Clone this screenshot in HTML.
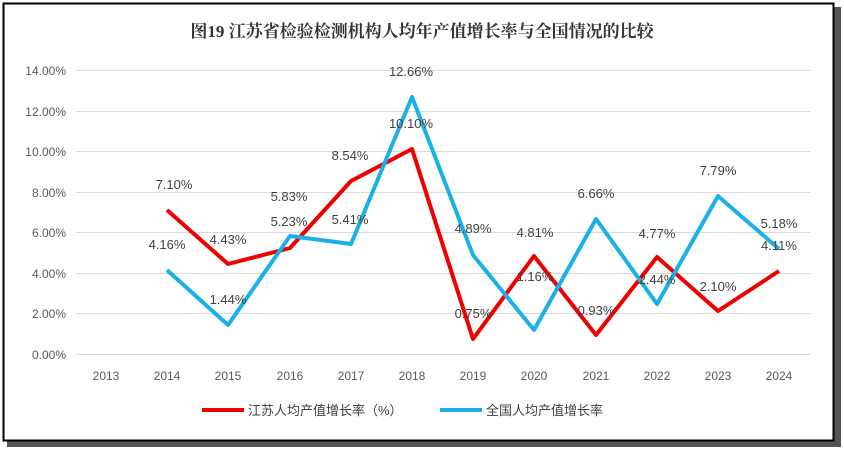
<!DOCTYPE html>
<html><head><meta charset="utf-8"><style>
html,body{margin:0;padding:0;background:#fff;width:844px;height:452px;overflow:hidden}
text{font-family:"Liberation Sans","Noto Sans CJK SC",sans-serif}
</style></head><body>
<svg width="844" height="452" viewBox="0 0 844 452" xmlns="http://www.w3.org/2000/svg">
<rect x="7" y="7" width="834" height="440" fill="#555"/>
<rect x="3.5" y="3.5" width="830" height="437" fill="#fff" stroke="#000" stroke-width="2"/>
<text x="422" y="37" text-anchor="middle" font-size="17" font-weight="bold" fill="#333" style='font-family:"Liberation Serif","Noto Serif CJK SC",serif'>图19  江苏省检验检测机构人均年产值增长率与全国情况的比较</text>
<g stroke="#d9d9d9" stroke-width="1">
<line x1="76" x2="810" y1="70.5" y2="70.5"/><line x1="76" x2="810" y1="111.5" y2="111.5"/>
<line x1="76" x2="810" y1="151.5" y2="151.5"/><line x1="76" x2="810" y1="192.5" y2="192.5"/>
<line x1="76" x2="810" y1="232.5" y2="232.5"/><line x1="76" x2="810" y1="273.5" y2="273.5"/>
<line x1="76" x2="810" y1="313.5" y2="313.5"/><line x1="76" x2="810" y1="354.5" y2="354.5"/>
</g>
<g font-size="12" fill="#595959" text-anchor="end">
<text x="66" y="75">14.00%</text><text x="66" y="116">12.00%</text><text x="66" y="156">10.00%</text>
<text x="66" y="197">8.00%</text><text x="66" y="237">6.00%</text><text x="66" y="278">4.00%</text>
<text x="66" y="318">2.00%</text><text x="66" y="359">0.00%</text>
</g>
<g font-size="12" fill="#595959" text-anchor="middle">
<text x="106" y="380">2013</text><text x="167" y="380">2014</text><text x="228" y="380">2015</text>
<text x="290" y="380">2016</text><text x="351" y="380">2017</text><text x="412" y="380">2018</text>
<text x="473" y="380">2019</text><text x="534" y="380">2020</text><text x="596" y="380">2021</text>
<text x="657" y="380">2022</text><text x="718" y="380">2023</text><text x="779" y="380">2024</text>
</g>
<polyline fill="none" stroke="#ee0000" stroke-width="4" stroke-linejoin="round" points="167,210 228,264 290,248 351,181 412,149 473,339 534,256 596,335 657,257 718,311 779,271"/>
<polyline fill="none" stroke="#1ab0e8" stroke-width="4" stroke-linejoin="round" points="167,270 228,325 290,236 351,244 412,97 473,255 534,330 596,219 657,304 718,196 779,249"/>
<g font-size="13" fill="#404040" text-anchor="middle">
<text x="174" y="189">7.10%</text><text x="228" y="244">4.43%</text><text x="289" y="226">5.23%</text>
<text x="350" y="160">8.54%</text><text x="411" y="128">10.10%</text><text x="473" y="318">0.75%</text>
<text x="535" y="237">4.81%</text><text x="596" y="315">0.93%</text><text x="657" y="238">4.77%</text>
<text x="718" y="291">2.10%</text><text x="779" y="250">4.11%</text>
<text x="167" y="249">4.16%</text><text x="228" y="304">1.44%</text><text x="289" y="201">5.83%</text>
<text x="350" y="224">5.41%</text><text x="411" y="76">12.66%</text><text x="473" y="233">4.89%</text>
<text x="535" y="281">1.16%</text><text x="596" y="198">6.66%</text><text x="657" y="284">2.44%</text>
<text x="718" y="175">7.79%</text><text x="779" y="228">5.18%</text>
</g>
<line x1="202" x2="244" y1="410" y2="410" stroke="#ee0000" stroke-width="4"/>
<text x="248" y="415" font-size="13" fill="#404040">江苏人均产值增长率（%）</text>
<line x1="440" x2="482" y1="410" y2="410" stroke="#1ab0e8" stroke-width="4"/>
<text x="486" y="415" font-size="13" fill="#404040">全国人均产值增长率</text>
</svg>
</body></html>
